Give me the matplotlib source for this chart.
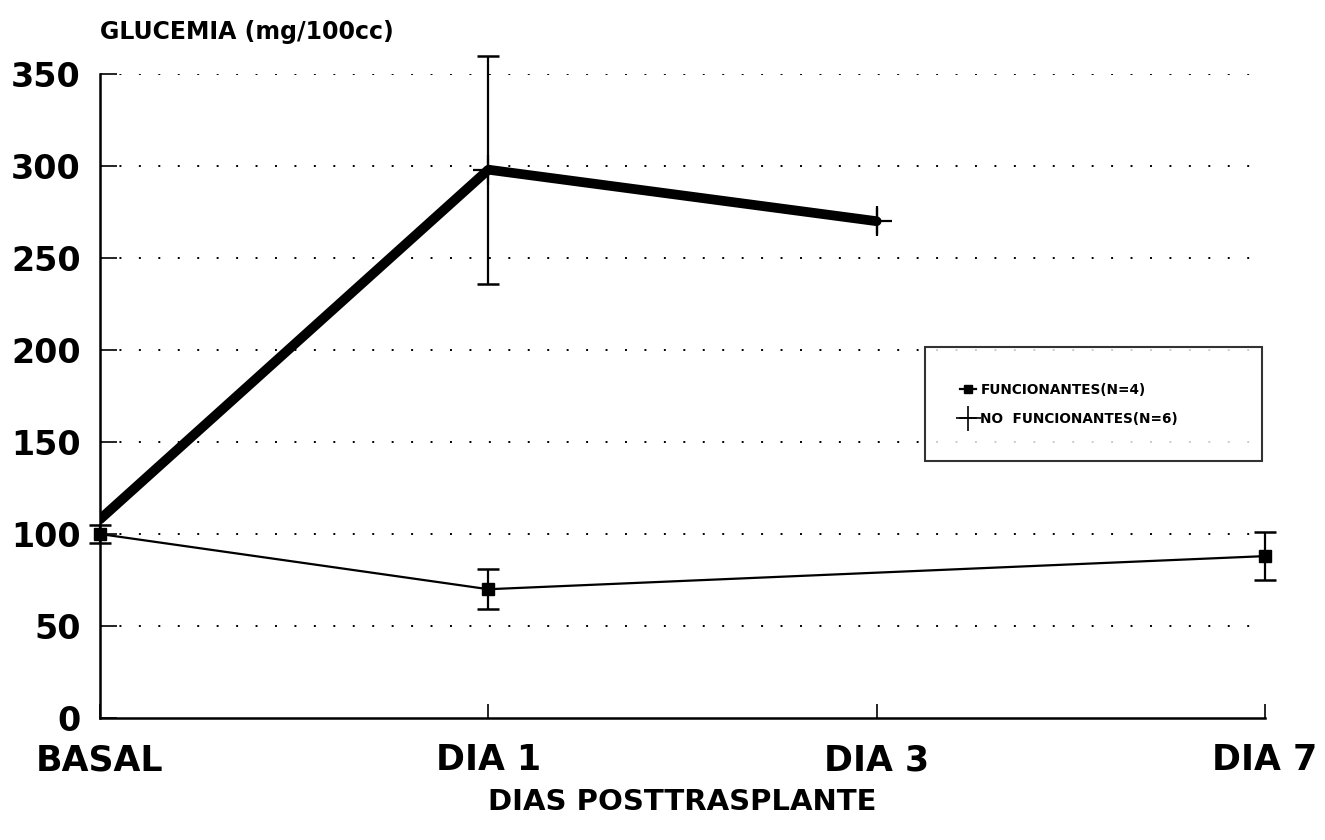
import numpy as np
import matplotlib.pyplot as plt
from matplotlib.lines import Line2D

plt.rcParams['font.family'] = ['DejaVu Sans']

# datos
dias = ['BASAL', 'DIA 1', 'DIA 3', 'DIA 7']
x_func = [0, 1, 3]
func = [100, 70, 88]
func_err = [5, 11, 13]

x_nofunc = [0, 1, 2]
nofunc = [108, 298, 270]
nofunc_err = [0, 62, 7]

yticks = [0, 50, 100, 150, 200, 250, 300, 350]

fig = plt.figure(figsize=(13.25, 8.4), dpi=100)
ax = fig.add_axes([0.0755, 0.1452, 0.8792, 0.7667])

for y in yticks[1:]:
    ax.axhline(y, color='black', lw=1.4, ls=(0, (1, 9)), zorder=1)

# funcionantes
ax.errorbar(x_func, func, yerr=func_err, color='black', lw=1.6, marker='s',
            ms=8, capsize=8, capthick=1.8, elinewidth=1.6, zorder=3, clip_on=False)

# no funcionantes
ax.plot(x_nofunc, nofunc, color='black', lw=7, solid_capstyle='round', zorder=3)
ax.plot(x_nofunc[1:], nofunc[1:], ls='none', color='black', marker='+',
        ms=22, mew=1.6, zorder=4)
ax.errorbar(x_nofunc[1], nofunc[1], yerr=nofunc_err[1], fmt='none', ecolor='black',
            capsize=8, capthick=1.8, elinewidth=1.6, zorder=3, clip_on=False)
ax.errorbar(x_nofunc[2], nofunc[2], yerr=nofunc_err[2], fmt='none', ecolor='black',
            capsize=0, elinewidth=1.6, zorder=3)

ax.set_xlim(0, 3)
ax.set_ylim(0, 350)
ax.set_xticks(range(len(dias)))
ax.set_xticklabels(dias, fontsize=25, fontweight='bold')
ax.set_yticks(yticks)
ax.set_yticklabels([str(v) for v in yticks], fontsize=24, fontweight='bold')
ax.tick_params(axis='x', direction='in', length=10, width=1.2, pad=18)
ax.tick_params(axis='y', direction='in', length=12, width=1.2, pad=14)

for s in ['top', 'right']:
    ax.spines[s].set_visible(False)
for s in ['left', 'bottom']:
    ax.spines[s].set_linewidth(1.8)

fig.text(0.0755, 0.962, 'GLUCEMIA (mg/100cc)', fontsize=17, fontweight='bold',
         ha='left', va='center')
ax.set_xlabel('DIAS POSTTRASPLANTE', fontsize=21, fontweight='bold', labelpad=8)

handles = [
    Line2D([], [], color='black', lw=1.6, marker='s', ms=6),
    Line2D([], [], color='black', lw=1.2, marker='+', ms=18, mew=1.2),
]
leg = ax.legend(handles, ['FUNCIONANTES(N=4)', 'NO  FUNCIONANTES(N=6)'],
                loc='upper left', bbox_to_anchor=(0.702, 0.405, 0.301, 0.181),
                mode='expand', frameon=True,
                fancybox=False, edgecolor='black', handlelength=1.2,
                handletextpad=0.3, borderpad=2.6, labelspacing=1.1,
                prop={'size': 9.8, 'weight': 'bold'})
leg.get_frame().set_linewidth(1.5)

fig.savefig('out.png', dpi=100)
